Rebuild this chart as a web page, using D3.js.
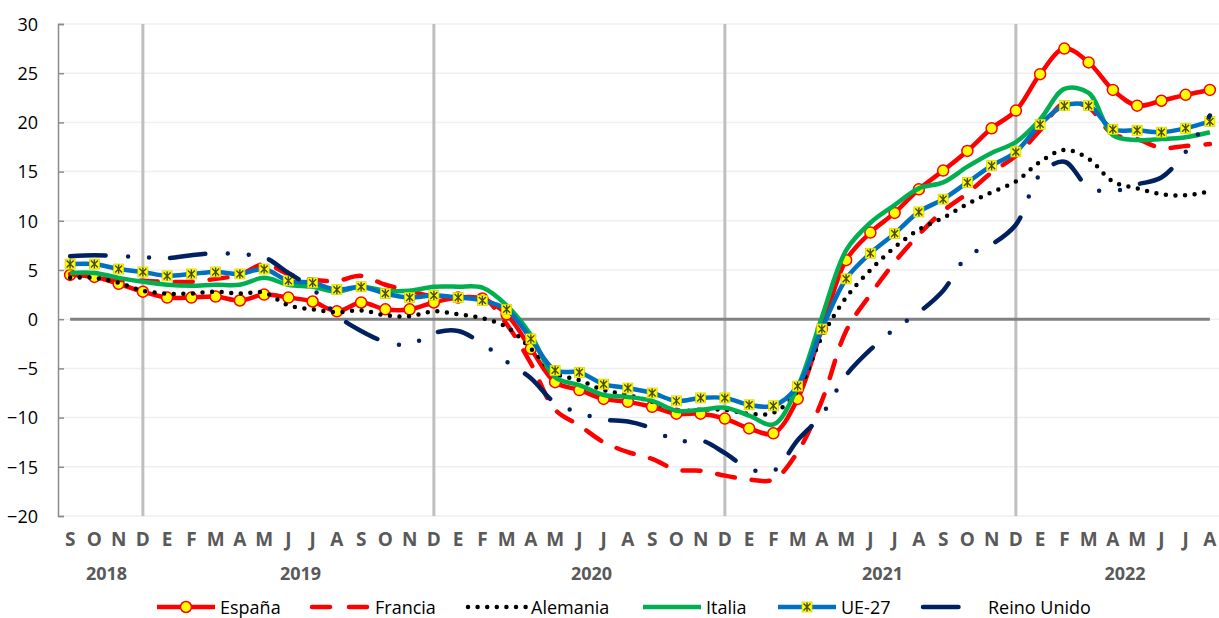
<!DOCTYPE html>
<html lang="es">
<head>
<meta charset="UTF-8">
<title>Evolución interanual</title>
<script src="https://d3js.org/d3.v7.min.js"></script>
<style>
  body { margin: 0; background: #fff; }
  svg text { font-family: "Open Sans", "DejaVu Sans", sans-serif; }
  .ylab { font-size: 18px; fill: #000; }
  .mlab { font-size: 19px; font-weight: bold; fill: #595959; }
  .yrlab { font-size: 18px; font-weight: bold; fill: #595959; }
  .leg { font-size: 18px; fill: #000; }
</style>
</head>
<body>
<svg id="chart" width="1219" height="618"></svg>
<script>
// month letters, Sep 2018 .. Aug 2022
const monthLetters = ["S","O","N","D",
  "E","F","M","A","M","J","J","A","S","O","N","D",
  "E","F","M","A","M","J","J","A","S","O","N","D",
  "E","F","M","A","M","J","J","A","S","O","N","D",
  "E","F","M","A","M","J","J","A"];
const years = ["2018", "2019", "2020", "2021", "2022"];
const yTicks = [-20, -15, -10, -5, 0, 5, 10, 15, 20, 25, 30];

const espana = [4.5, 4.3, 3.6, 2.8, 2.2, 2.2, 2.3, 1.9, 2.5, 2.2, 1.8, 0.8,
  1.7, 1.0, 1.0, 1.7, 2.2, 2.1, 0.5, -3.0, -6.4, -7.2, -8.1, -8.4,
  -8.9, -9.6, -9.6, -10.1, -11.1, -11.6, -8.1, -1.0, 6.0, 8.8, 10.8, 13.2,
  15.1, 17.1, 19.4, 21.2, 24.9, 27.5, 26.1, 23.3, 21.7, 22.2, 22.8, 23.3];
const francia = [4.6, 4.3, 4.0, 3.9, 3.8, 3.8, 4.1, 4.5, 5.6, 4.6, 4.0, 3.9,
  4.4, 3.5, 2.9, 2.3, 2.2, 2.2, -0.5, -4.5, -9.2, -10.8, -12.5, -13.5,
  -14.2, -15.3, -15.4, -15.9, -16.3, -16.3, -13.5, -8.3, -1.2, 2.5, 5.8, 8.6,
  11.0, 12.8, 14.9, 16.6, 19.2, 22.0, 21.5, 18.8, 18.3, 17.4, 17.6, 17.8];
const alemania = [4.2, 4.2, 3.7, 2.9, 2.6, 2.6, 2.8, 2.6, 2.7, 1.4, 1.0, 0.7,
  0.9, 0.4, 0.3, 0.8, 0.5, 0.1, -0.8, -3.0, -5.5, -6.2, -7.2, -7.7,
  -8.4, -9.3, -9.2, -9.2, -9.6, -9.5, -7.3, -1.8, 2.2, 5.0, 7.3, 9.1,
  10.3, 11.7, 12.9, 14.0, 16.0, 17.2, 16.3, 14.0, 13.3, 12.7, 12.6, 13.0];
const italia = [4.7, 4.7, 4.2, 3.8, 3.5, 3.4, 3.5, 3.5, 4.2, 3.5, 3.3, 2.8,
  3.3, 2.9, 2.9, 3.3, 3.3, 3.2, 1.4, -1.6, -5.9, -6.7, -7.7, -7.9,
  -8.3, -9.3, -9.2, -9.0, -9.8, -10.7, -6.9, 0.2, 7.0, 9.8, 11.6, 13.3,
  13.9, 15.5, 16.9, 18.0, 20.3, 23.4, 23.0, 18.7, 18.2, 18.3, 18.5, 19.0];
const ue27 = [5.6, 5.6, 5.1, 4.8, 4.4, 4.6, 4.8, 4.6, 5.1, 3.9, 3.7, 3.0,
  3.3, 2.6, 2.2, 2.4, 2.2, 1.9, 1.0, -2.0, -5.2, -5.4, -6.6, -7.0,
  -7.5, -8.3, -8.0, -8.0, -8.7, -8.8, -6.8, -1.0, 4.1, 6.7, 8.7, 10.9,
  12.2, 13.9, 15.6, 17.0, 19.8, 21.7, 21.7, 19.3, 19.2, 19.0, 19.4, 20.1];
const reinoUnido = [6.4, 6.5, 6.4, 6.3, 6.2, 6.5, 6.7, 6.6, 6.3, 4.7, 3.1, 0.4,
  -1.2, -2.3, -2.6, -1.4, -1.2, -2.5, -4.3, -6.0, -8.5, -9.5, -10.2, -10.4,
  -11.1, -12.4, -12.3, -13.6, -15.2, -15.4, -12.3, -9.7, -5.7, -3.1, -1.0, 0.7,
  2.9, 6.4, 7.6, 9.6, 14.7, 16.0, 13.4, 13.0, 13.7, 14.4, 17.0, 20.7];

const series = [
  { name: "España", values: espana, color: "#ff0000", dash: null, marker: "circle" },
  { name: "Francia", values: francia, color: "#ff0000", dash: "18,17", marker: null },
  { name: "Alemania", values: alemania, color: "#000000", dash: "0,9.6", marker: null },
  { name: "Italia", values: italia, color: "#00b050", dash: null, marker: null },
  { name: "UE-27", values: ue27, color: "#0070c0", dash: null, marker: "star" },
  { name: "Reino Unido", values: reinoUnido, color: "#002060", dash: "35.5,22.5,0,21,0,21", marker: null }
];

const svg = d3.select("#chart");
const idx = d3.range(monthLetters.length);

const x = d3.scaleBand().domain(idx).range([58, 1222]).padding(0);
const cx = i => x(i) + x.bandwidth() / 2;
const y = d3.scaleLinear().domain([-20, 30]).range([516, 24]);

// horizontal gridlines
svg.append("g").selectAll("line")
  .data(yTicks).enter().append("line")
  .attr("x1", 58).attr("x2", 1222)
  .attr("y1", d => y(d)).attr("y2", d => y(d))
  .style("stroke", "#efefef").style("stroke-width", 1.5);

// y axis
const yAxis = d3.axisLeft(y).tickValues(yTicks).tickSize(-6).tickPadding(20).tickFormat(d3.format("d"));
const gy = svg.append("g").attr("transform", "translate(58,0)").call(yAxis);
gy.select(".domain").style("stroke", "#8c8c8c").style("stroke-width", 1.5);
gy.selectAll(".tick line").style("stroke", "#8c8c8c").style("stroke-width", 1.5);
gy.selectAll(".tick text").attr("class", "ylab").attr("x", -20).attr("dy", "0.35em")
  .style("font-family", null).style("font-size", null);
gy.attr("font-family", null).attr("font-size", null);

// year separators (December of each year)
const yearOf = i => 2018 + Math.floor((i + 8) / 12);
const decs = idx.filter(i => (i + 8) % 12 === 11);
svg.append("g").selectAll("line")
  .data(decs).enter().append("line")
  .attr("x1", d => cx(d)).attr("x2", d => cx(d))
  .attr("y1", y(30)).attr("y2", y(-20))
  .style("stroke", "#bfbfbf").style("stroke-width", 3);

// zero line
svg.append("line")
  .attr("x1", cx(0)).attr("x2", cx(idx.length - 1))
  .attr("y1", y(0)).attr("y2", y(0))
  .style("stroke", "#808080").style("stroke-width", 3);

// month labels
svg.append("g").selectAll("text")
  .data(idx).enter().append("text")
  .attr("class", "mlab")
  .attr("x", d => cx(d)).attr("y", 539)
  .attr("text-anchor", "middle").attr("dominant-baseline", "central")
  .text(d => monthLetters[d]);

// year labels
svg.append("g").selectAll("text")
  .data(years).enter().append("text")
  .attr("class", "yrlab")
  .attr("x", yr => {
    const its = idx.filter(i => String(yearOf(i)) === yr);
    return (cx(its[0]) + cx(its[its.length - 1])) / 2;
  })
  .attr("y", 573)
  .attr("text-anchor", "middle").attr("dominant-baseline", "central")
  .text(d => d);

const line = d3.line()
  .x((d, i) => cx(i))
  .y(d => y(d))
  .curve(d3.curveCatmullRom.alpha(0.5));

function drawMarker(g, type, px, py) {
  if (type === "circle") {
    g.append("circle").attr("cx", px).attr("cy", py).attr("r", 5.5)
      .style("fill", "#ffff00").style("stroke", "#ff0000").style("stroke-width", 1.5);
  } else if (type === "star") {
    const s = 5;
    g.append("rect").attr("x", px - s).attr("y", py - s).attr("width", 2 * s).attr("height", 2 * s)
      .style("fill", "#ffff00").style("stroke", "#d6d600").style("stroke-width", 0.8);
    const p = `M${px - 3.5},${py - 3.5}L${px + 3.5},${py + 3.5}M${px + 3.5},${py - 3.5}L${px - 3.5},${py + 3.5}M${px},${py - 4.5}L${px},${py + 4.5}`;
    g.append("path").attr("d", p).style("stroke", "#4a4a10").style("stroke-width", 1.4).style("fill", "none");
  }
}

// series
series.forEach(s => {
  const g = svg.append("g");
  g.append("path")
    .datum(s.values)
    .attr("d", line)
    .style("fill", "none")
    .style("stroke", s.color)
    .style("stroke-width", 4.5)
    .style("stroke-linecap", s.dash ? "round" : "butt")
    .style("stroke-linejoin", "round")
    .style("stroke-dasharray", s.dash);
  if (s.marker) {
    s.values.forEach((v, i) => drawMarker(g, s.marker, cx(i), y(v)));
  }
});

// legend
const legX = [157, 312, 468, 643, 778, 923];
const legY = 607;
const leg = svg.append("g").selectAll("g")
  .data(series).enter().append("g")
  .attr("transform", (d, i) => `translate(${legX[i]},${legY})`);
leg.each(function (s) {
  const g = d3.select(this);
  g.append("line").attr("x1", 0).attr("x2", 58).attr("y1", 0).attr("y2", 0)
    .style("stroke", s.color).style("stroke-width", 4.5)
    .style("stroke-linecap", s.dash ? "round" : "butt")
    .style("stroke-dasharray", s.name === "Francia" ? "18,19" : s.dash);
  if (s.marker) drawMarker(g, s.marker, 29, 0);
  g.append("text").attr("class", "leg")
    .attr("x", s.name === "Reino Unido" ? 65 : 63).attr("y", 0)
    .attr("dominant-baseline", "central")
    .text(s.name);
});
</script>
</body>
</html>
